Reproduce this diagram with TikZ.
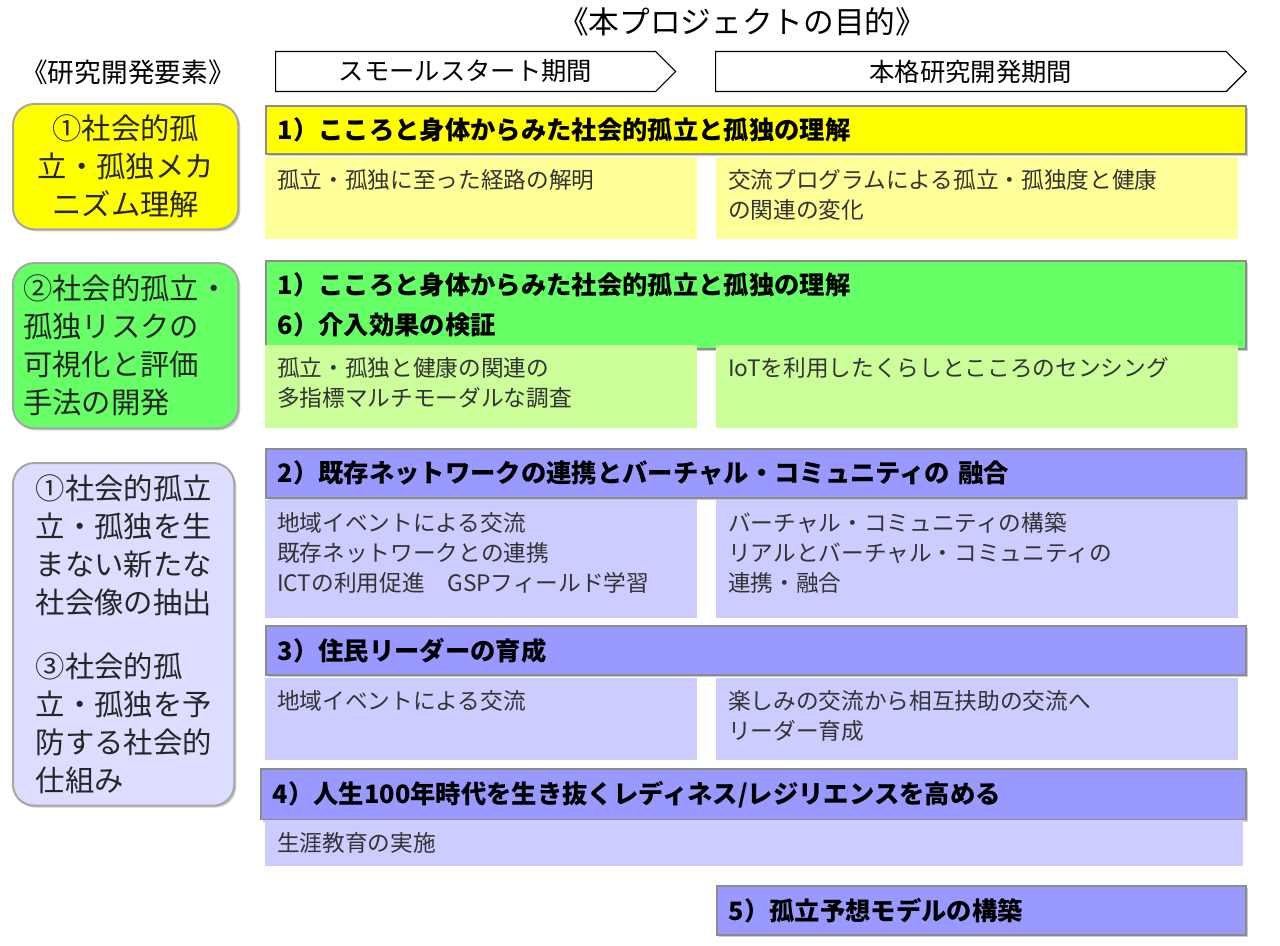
\documentclass[tikz,border=0pt]{standalone}
\usepackage{fontspec}
\setmainfont{Noto Sans CJK JP}
\usetikzlibrary{shapes.symbols,shadows}
\definecolor{yel}{HTML}{FFFF00}
\definecolor{yelcell}{HTML}{FFFF99}
\definecolor{grn}{HTML}{66FF66}
\definecolor{grncell}{HTML}{CCFF99}
\definecolor{lav}{HTML}{9999FF}
\definecolor{lavcell}{HTML}{CCCCFF}
\definecolor{lavleft}{HTML}{DDDDFF}
\tikzset{
  hdr/.style={anchor=north west,inner sep=9pt,draw=black!45,line width=1.2pt,
    drop shadow={shadow xshift=1.5pt,shadow yshift=-1.5pt,fill=black!40},
    font=\fontsize{19}{30}\selectfont\bfseries,align=left},
  cell/.style={anchor=north west,inner sep=9pt,text=black!80,font=\fontsize{17}{22.5}\selectfont},
  elem/.style={rounded corners=16pt,draw=black!35,line width=1.5pt,text=black!85,
    drop shadow={shadow xshift=1.5pt,shadow yshift=-1.5pt,fill=black!40},
    font=\fontsize{22}{28.5}\selectfont,anchor=north west},
  period/.style={signal,signal to=east,draw,thick,minimum height=30pt,
    anchor=north west,font=\fontsize{19}{20}\selectfont}
}
\newcommand\topbox[2]{\vbox to #1{#2\vfill}}
\begin{document}
\begin{tikzpicture}[x=0.75pt,y=-0.75pt]
\useasboundingbox (0,0) rectangle (1280,945);
% headings
\node[font=\fontsize{23}{26}\selectfont] (goal) at (742,22) {《本プロジェクトの目的》};
\node[font=\fontsize{20}{22}\selectfont] (elements) at (128,72) {《研究開発要素》};
\node[period,minimum width=300pt] (small) at (275,51) {スモールスタート期間};
\node[period,minimum width=398pt] (main) at (715,51) {本格研究開発期間};
% left column
\node[elem,fill=yel,minimum width=169pt,minimum height=94pt,align=center] (e1) at (12,103)
  {①社会的孤\\立・孤独メカ\\ニズム理解};
\node[elem,fill=grn,minimum width=169pt,minimum height=124pt,align=left] (e2) at (12,262)
  {②社会的孤立・\\孤独リスクの\\可視化と評価\\手法の開発};
\node[elem,fill=lavleft,minimum width=166pt,minimum height=257pt,align=left] (e3) at (12,462)
  {①社会的孤立\\立・孤独を生\\まない新たな\\社会像の抽出\\[20pt]③社会的孤\\立・孤独を予\\防する社会的\\仕組み};
% row 1
\node[hdr,fill=yel,text width=717pt,minimum height=35pt] (h1) at (265,105)
  {1）こころと身体からみた社会的孤立と孤独の理解};
\node[cell,fill=yelcell,text width=306pt] (c1a) at (265,157) {\topbox{43pt}{孤立・孤独に至った経路の解明}};
\node[cell,fill=yelcell,text width=373pt] (c1b) at (716,157) {\topbox{43pt}{交流プログラムによる孤立・孤独度と健康\\の関連の変化}};
% row 2
\node[hdr,fill=grn,text width=717pt,minimum height=60pt] (h2) at (265,260)
  {1）こころと身体からみた社会的孤立と孤独の理解\\6）介入効果の検証};
\node[cell,fill=grncell,text width=306pt] (c2a) at (265,345) {\topbox{44pt}{孤立・孤独と健康の関連の\\多指標マルチモーダルな調査}};
\node[cell,fill=grncell,text width=373pt] (c2b) at (716,345) {\topbox{44pt}{IoTを利用したくらしとこころのセンシング}};
% row 3
\node[hdr,fill=lav,text width=717pt,minimum height=37pt] (h3) at (265,448)
  {2）既存ネットワークの連携とバーチャル・コミュニティの 融合};
\node[cell,fill=lavcell,text width=306pt] (c3a) at (265,500) {\topbox{70pt}{地域イベントによる交流\\既存ネットワークとの連携\\ICTの利用促進\quad GSPフィールド学習}};
\node[cell,fill=lavcell,text width=373pt] (c3b) at (716,500) {\topbox{70pt}{バーチャル・コミュニティの構築\\リアルとバーチャル・コミュニティの\\連携・融合}};
% row 4
\node[hdr,fill=lav,text width=717pt,minimum height=37pt] (h4) at (265,625)
  {3）住民リーダーの育成};
\node[cell,fill=lavcell,text width=306pt] (c4a) at (265,678) {\topbox{43pt}{地域イベントによる交流}};
\node[cell,fill=lavcell,text width=373pt] (c4b) at (716,678) {\topbox{43pt}{楽しみの交流から相互扶助の交流へ\\リーダー育成}};
% row 5
\node[hdr,fill=lav,text width=721pt,minimum height=37pt] (h5) at (260,768)
  {4）人生100年時代を生き抜くレディネス/レジリエンスを高める};
\node[cell,fill=lavcell,text width=715pt] (c5) at (265,820) {\topbox{16pt}{生涯教育の実施}};
% row 6
\node[hdr,fill=lav,text width=379pt,minimum height=37pt] (h6) at (716,885)
  {5）孤立予想モデルの構築};
\end{tikzpicture}
\end{document}
